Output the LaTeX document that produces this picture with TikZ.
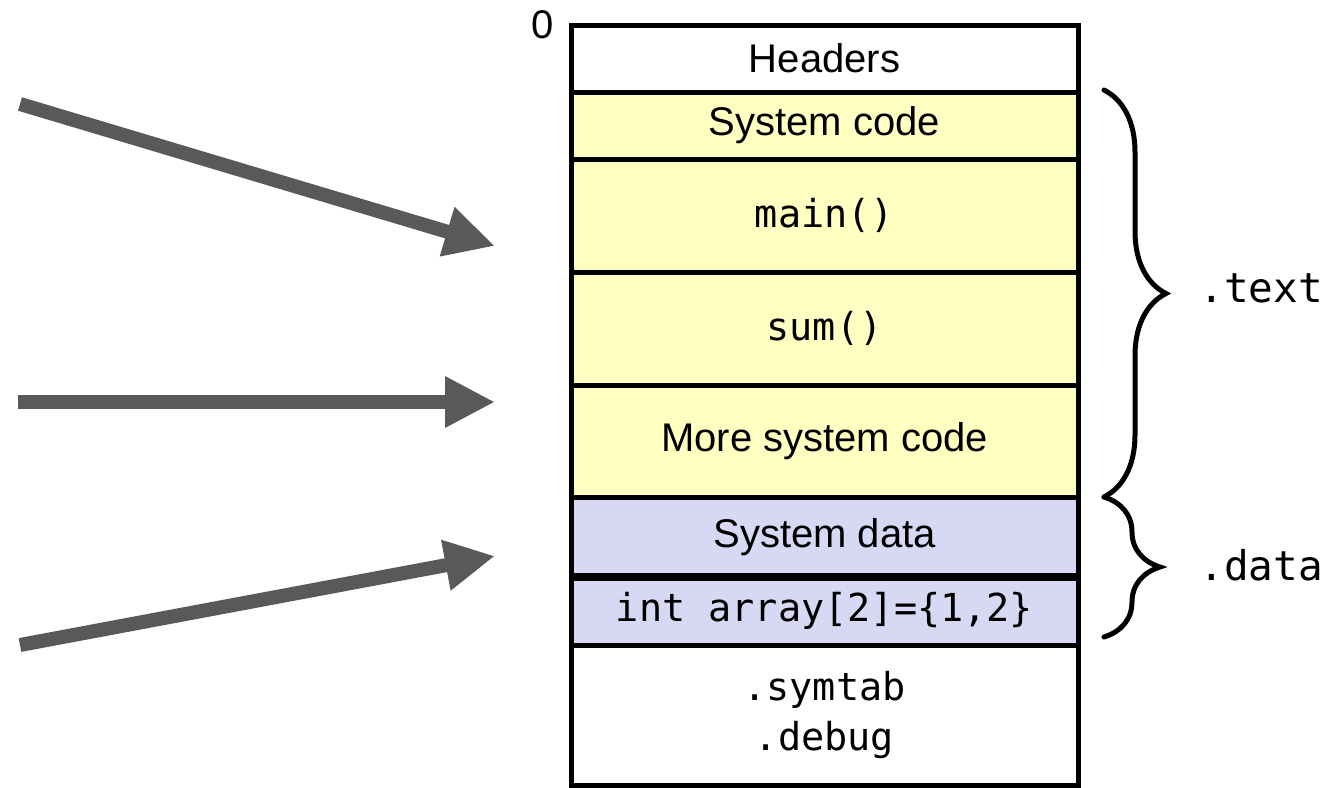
\documentclass[tikz,border=0pt]{standalone}
\usepackage{fontspec}
\setmainfont{Liberation Sans}
\newfontfamily\codefont{DejaVu Sans Mono}
\usetikzlibrary{decorations.pathreplacing,arrows.meta}
\definecolor{codeyellow}{RGB}{255,255,193}
\definecolor{datablue}{RGB}{216,216,244}
\definecolor{arrowgray}{RGB}{89,89,89}
\begin{document}
\begin{tikzpicture}[x=1pt,y=-1pt,
  seg/.style={draw=black,line width=5pt,minimum width=507pt,inner sep=0pt,outer sep=0pt,
    anchor=north west,font=\fontsize{40}{46}\selectfont},
  yel/.style={fill=codeyellow},
  blu/.style={fill=datablue},
  bigarrow/.style={draw=arrowgray,line width=14pt,-{Triangle[length=50pt,width=48pt]}},
  bracestyle/.style={draw=black,line width=5pt,line cap=round,decorate},
  lbl/.style={font=\codefont\fontsize{41}{46}\selectfont,anchor=west}
]
\useasboundingbox (0,0) rectangle (1343,787);
% segments
\node[seg,minimum height=140pt] (sym) at (571,645) {\codefont\fontsize{38.5}{50}\selectfont\begin{tabular}{@{}c@{}}.symtab\\.debug\end{tabular}};
\node[seg,blu,minimum height=68pt] (arr) at (571,577) {\codefont\fontsize{38.5}{46}\selectfont int array[2]=\{1,2\}};
\node[seg,blu,minimum height=80pt] (sdata) at (571,497) {System data};
\node[seg,yel,minimum height=112pt] (more) at (571,385) {More system code};
\node[seg,yel,minimum height=113pt] (sum) at (571,272) {\codefont\fontsize{38.5}{46}\selectfont sum()};
\node[seg,yel,minimum height=113pt] (main) at (571,159) {\codefont\fontsize{38.5}{46}\selectfont main()};
\node[seg,yel,minimum height=67pt] (sys) at (571,92) {System code};
\node[seg,minimum height=67pt] (hdr) at (571,25) {Headers};
\draw[line width=8pt] (arr.north west) -- (arr.north east);
% zero label
\node[font=\fontsize{40}{46}\selectfont] (zero) at (543,25) {0};
% arrows
\coordinate (a1s) at (20,104);  \coordinate (a1e) at (495,246);
\coordinate (a2s) at (18,402);  \coordinate (a2e) at (495,402);
\coordinate (a3s) at (20,645);  \coordinate (a3e) at (495,556);
\draw[bigarrow] (a1s) -- (a1e);
\draw[bigarrow] (a2s) -- (a2e);
\draw[bigarrow] (a3s) -- (a3e);
% braces
\coordinate (bt1) at (1104,90);  \coordinate (bt2) at (1104,497);
\coordinate (bd1) at (1104,497); \coordinate (bd2) at (1104,637);
\draw[bracestyle,decoration={brace,amplitude=62pt}] (bt1) -- (bt2);
\draw[bracestyle,decoration={brace,amplitude=56pt}] (bd1) -- (bd2);
\node[lbl] (textlbl) at (1196,288) {.text};
\node[lbl] (datalbl) at (1196,565) {.data};
\end{tikzpicture}
\end{document}
